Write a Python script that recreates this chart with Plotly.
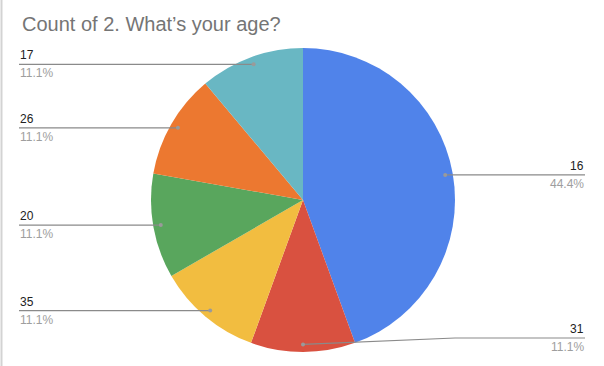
import math
import plotly.graph_objects as go

# Data
ages = ["16", "31", "35", "20", "26", "17"]
counts = [4, 1, 1, 1, 1, 1]
colors = ["#5083EA", "#D95140", "#F2BD40", "#59A65D", "#EC7830", "#69B7C3"]
title = "Count of 2. What’s your age?"

W, H = 604, 366
cx, cy, R = 303, 200, 152  # pie center/radius in px

fig = go.Figure(go.Pie(
    labels=ages, values=counts, sort=False, direction="clockwise", rotation=0,
    marker=dict(colors=colors, line=dict(width=0)),
    textinfo="none", hoverinfo="label+value+percent",
    domain=dict(x=[(cx - R) / W, (cx + R) / W], y=[(H - cy - R) / H, (H - cy + R) / H]),
    showlegend=False,
))

def px2paper(x, y):
    return x / W, (H - y) / H

shapes = []
annotations = []
total = sum(counts)
cum = 0
left_x, right_x = 19, 585
for lab, v in zip(ages, counts):
    mid = (cum + v / 2) / total * 2 * math.pi
    cum += v
    dx, dy = math.sin(mid) * R * 0.95, -math.cos(mid) * R * 0.95
    px, py = cx + dx, cy + dy
    pct = f"{v / total * 100:.1f}%"
    ly = min(py, 338)
    right = dx > 0 or (abs(dx) < 5)
    if right:
        lx_end = right_x
        if abs(ly - py) > 1:
            shapes.append(dict(type="path", xref="paper", yref="paper",
                               path="M {} {} L {} {} L {} {}".format(
                                   *px2paper(px, py), *px2paper(cx + R, ly), *px2paper(lx_end, ly)),
                               line=dict(color="#8a8a8a", width=1.2)))
        else:
            x0, y0 = px2paper(px, ly)
            x1, y1 = px2paper(lx_end, ly)
            shapes.append(dict(type="line", xref="paper", yref="paper", x0=x0, y0=y0, x1=x1, y1=y1,
                               line=dict(color="#8a8a8a", width=1.2)))
        ax, ay = px2paper(lx_end, ly)
        xanchor = "right"
    else:
        x0, y0 = px2paper(left_x, ly)
        x1, y1 = px2paper(px, ly)
        shapes.append(dict(type="line", xref="paper", yref="paper", x0=x0, y0=y0, x1=x1, y1=y1,
                           line=dict(color="#8a8a8a", width=1.2)))
        ax, ay = px2paper(left_x, ly)
        xanchor = "left"
    dxp, dyp = px2paper(px, py)
    shapes.append(dict(type="circle", xref="paper", yref="paper",
                       x0=dxp - 2 / W, x1=dxp + 2 / W, y0=dyp - 2 / H, y1=dyp + 2 / H,
                       fillcolor="#9a9a9a", line=dict(width=0)))
    annotations.append(dict(x=ax, y=ay + 1 / H, xref="paper", yref="paper", text=lab,
                            showarrow=False, xanchor=xanchor, yanchor="bottom",
                            font=dict(size=12, color="#222222"), borderpad=0))
    annotations.append(dict(x=ax, y=ay - 1 / H, xref="paper", yref="paper", text=pct,
                            showarrow=False, xanchor=xanchor, yanchor="top",
                            font=dict(size=12, color="#9e9e9e"), borderpad=0))

# left border
shapes.append(dict(type="line", xref="paper", yref="paper", x0=1.5 / W, x1=1.5 / W, y0=0, y1=1,
                   line=dict(color="#d3d3d3", width=2)))

annotations.append(dict(x=20 / W, y=(H - 24) / H, xref="paper", yref="paper", text=title,
                        showarrow=False, xanchor="left", yanchor="middle",
                        font=dict(size=20, color="#757575")))

fig.update_layout(
    width=W, height=H, margin=dict(l=0, r=0, t=0, b=0),
    paper_bgcolor="white", plot_bgcolor="white",
    font=dict(family="Liberation Sans, Arial, sans-serif"),
    shapes=shapes, annotations=annotations,
)
fig.write_html("out.html", config={"displayModeBar": False},
               post_script="document.body.style.margin='0';document.body.style.overflow='hidden';")
